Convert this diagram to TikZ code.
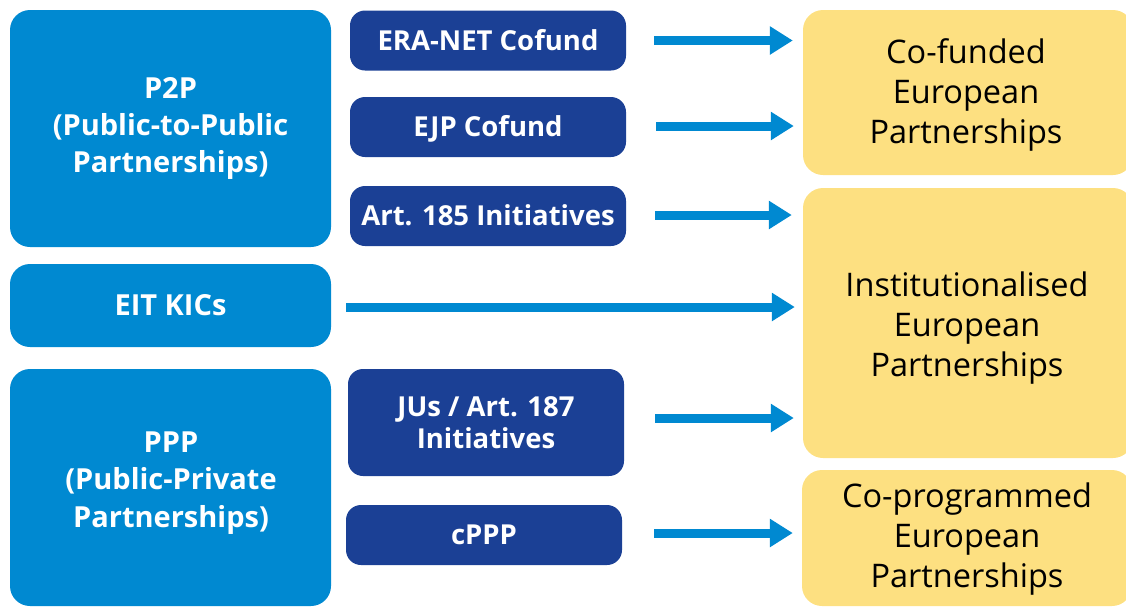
\documentclass[tikz,border=0pt]{standalone}
\usepackage{fontspec}
\setmainfont{Open Sans}
\usetikzlibrary{arrows.meta}
\definecolor{lblue}{HTML}{0089D1}
\definecolor{dblue}{HTML}{1B4095}
\definecolor{pyellow}{HTML}{FDE081}
\tikzset{
  box/.style={rounded corners=20pt, fill=lblue, text=white, font=\bfseries\fontsize{29}{37}\selectfont, align=center, inner sep=0pt, minimum width=321pt},
  sbox/.style={rounded corners=15pt, fill=dblue, text=white, font=\bfseries\fontsize{27.5}{32}\selectfont, align=center, inner sep=0pt, minimum width=276pt},
  oneline/.style={text height=19.6pt, text depth=0pt},
  ybox/.style={rounded corners=20pt, fill=pyellow, inner sep=0pt, minimum width=330pt},
  ytext/.style={text=black, font=\fontsize{32.5}{40}\selectfont, align=center, inner sep=0pt},
  wtext/.style={text=white, font=\bfseries\fontsize{29}{37.5}\selectfont, align=center, inner sep=0pt},
  arr/.style={draw=lblue, line width=9pt, -{Triangle[length=23pt,width=27pt]}}
}
\begin{document}
\begin{tikzpicture}[x=1pt,y=-1pt]
\useasboundingbox (0,0) rectangle (1126,606);
\clip (0,0) rectangle (1126,606);
% left column
\node[box, minimum height=237pt] (p2p) at (170.5,128.5) {P2P\\(Public-to-Public\\Partnerships)};
\node[box, oneline, minimum height=83pt] (eit) at (170.5,305.5) {EIT KICs};
\node[box, minimum height=237pt] (ppp) at (170.5,487.5) {};
\node[wtext] (pppt) at (171,483) {PPP\\(Public-Private\\Partnerships)};
% middle column
\node[sbox, oneline, minimum height=60pt] (era) at (488,40.5) {ERA-NET Cofund};
\node[sbox, oneline, minimum height=60pt] (ejp) at (488,127) {EJP Cofund};
\node[sbox, oneline, minimum height=60pt] (art) at (488,216) {Art. 185 Initiatives};
\node[sbox, minimum height=107pt] (jus) at (486,422.5) {JUs / Art. 187\\Initiatives};
\node[sbox, oneline, minimum height=60pt] (cppp) at (484,535) {cPPP};
% right column
\node[ybox, minimum height=165pt] (cof) at (968,92.5) {};
\node[ytext] (coft) at (966,95) {Co-funded\\European\\Partnerships};
\node[ybox, minimum height=270pt] (inst) at (968,323) {};
\node[ytext] (instt) at (967,328) {Institutionalised\\European\\Partnerships};
\node[ybox, minimum height=136pt] (cop) at (967,538) {};
\node[ytext] (copt) at (967,539) {Co-programmed\\European\\Partnerships};
% arrows
\draw[arr, shorten <=28pt, shorten >=10pt] (era.east) -- (era.east -| cof.west);
\draw[arr, shorten <=30pt, shorten >=9pt] ([yshift=1pt]ejp.east) -- ([yshift=1pt]ejp.east -| cof.west);
\draw[arr, shorten <=29pt, shorten >=11pt] ([yshift=1pt]art.east) -- ([yshift=1pt]art.east -| inst.west);
\draw[arr, shorten <=15pt, shorten >=8pt] ([yshift=-1.5pt]eit.east) -- ([yshift=-1.5pt]eit.east -| inst.west);
\draw[arr, shorten <=31pt, shorten >=9pt] ([yshift=4.5pt]jus.east) -- ([yshift=4.5pt]jus.east -| inst.west);
\draw[arr, shorten <=32pt, shorten >=9pt] ([yshift=2pt]cppp.east) -- ([yshift=2pt]cppp.east -| cop.west);
\end{tikzpicture}
\end{document}
